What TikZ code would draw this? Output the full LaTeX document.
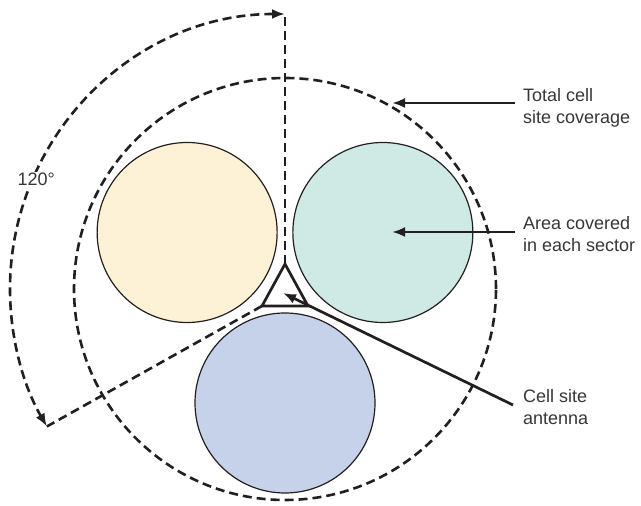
\documentclass[tikz,border=0pt]{standalone}
\usepackage{fontspec}
\setmainfont{Liberation Sans}
\usetikzlibrary{arrows.meta,calc}
\definecolor{ink}{HTML}{231F20}
\definecolor{sectorA}{HTML}{FEF2D6}
\definecolor{sectorB}{HTML}{CFE9E5}
\definecolor{sectorC}{HTML}{C6D2EA}
\begin{document}
\begin{tikzpicture}[x=1pt,y=1pt,
  dashline/.style={draw=ink, line width=2.6pt, dash pattern=on 9pt off 5pt},
  sector/.style={circle, draw=ink, line width=1.2pt, minimum size=180pt, inner sep=0pt},
  pointer/.style={draw=ink, line width=2.7pt, -{Latex[length=13pt,width=10pt]}},
  sweep/.style={{Latex[length=13pt,width=10pt]}-{Latex[length=13pt,width=10pt]}},
  lbl/.style={font=\fontsize{18}{22}\selectfont, text=ink!90, align=left, inner sep=0pt, anchor=base west}]
\useasboundingbox (0,0) rectangle (641,506);

% cell site centre and overall coverage
\coordinate (C) at (285,217);
\node[circle, dashline, minimum size=422pt, inner sep=0pt] (coverage) at (C) {};

% three sector coverage areas
\node[sector, fill=sectorA] (secA) at ($(C)+(150:113)$) {};
\node[sector, fill=sectorB] (secB) at ($(C)+(30:113)$) {};
\node[sector, fill=sectorC] (secC) at ($(C)+(270:114)$) {};

% antenna triangle
\coordinate (apex) at (285,242);
\coordinate (bl) at (262,200);
\coordinate (br) at (308,200);
\draw[ink, line width=2.7pt, line join=miter] (apex) -- (bl) -- (br) -- cycle;

% 120 degree sector boundaries and sweep
\coordinate (top) at (285,492);
\coordinate (arcend) at ($(C)+(210:275)$);
\draw[dashline] (apex) -- (top);
\draw[dashline] (bl) -- (arcend);
\draw[dashline, sweep] (top) arc[start angle=90, end angle=210, radius=275];
\node[lbl, fill=white, inner sep=1.5pt] (angle) at (16,320) {120°};

% labels with pointers (base anchor sits on the last line)
\node[lbl] (total) at (523,382) {Total cell\\site coverage};
\coordinate (totalTail) at (515,403);
\coordinate (totalTip) at (392,403);
\draw[pointer] (totalTail) -- (totalTip);

\node[lbl] (area) at (523,254) {Area covered\\in each sector};
\coordinate (areaTail) at (515,274);
\coordinate (areaTip) at (392,274);
\draw[pointer] (areaTail) -- (areaTip);

\node[lbl] (antenna) at (523,81) {Cell site\\antenna};
\coordinate (antTail) at (513,101);
\coordinate (antTip) at (283,213);
\draw[pointer] (antTail) -- (antTip);
\end{tikzpicture}
\end{document}
